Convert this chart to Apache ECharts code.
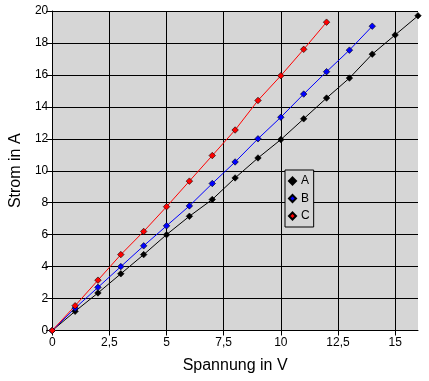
<!DOCTYPE html>
<html><head><meta charset="utf-8">
<script src="https://cdn.jsdelivr.net/npm/echarts@6/dist/echarts.min.js"></script>
<style>html,body{margin:0;padding:0;background:#fff}#c{width:429px;height:381px}</style>
</head><body><div id="c"></div>
<script>
const seriesNames = ['A', 'B', 'C'];
const colors = ['#000000', '#0000ff', '#ff0000'];
const xA = [0,1,2,3,4,5,6,7,8,9,10,11,12,13,14,15,16];
const yA = [0,1.2,2.35,3.55,4.75,6.0,7.15,8.2,9.55,10.8,11.95,13.25,14.55,15.8,17.3,18.5,19.7];
const xB = [0,1,2,3,4,5,6,7,8,9,10,11,12,13,14];
const yB = [0,1.4,2.7,4.0,5.3,6.55,7.8,9.2,10.55,12.0,13.35,14.8,16.2,17.55,19.05];
const xC = [0,1,2,3,4,5,6,7,8,9,10,11,12];
const yC = [0,1.55,3.15,4.75,6.2,7.75,9.35,10.95,12.55,14.4,15.95,17.6,19.3];
const xTicks = [0,2.5,5,7.5,10,12.5,15];
const xTitle = 'Spannung in V';
const yTitle = 'Strom in A';

const xs = [xA, xB, xC], ys = [yA, yB, yC];
const font = 'Liberation Sans, Arial, sans-serif';
const chart = echarts.init(document.getElementById('c'), null, {renderer: 'canvas'});
chart.setOption({
  animation: false,
  backgroundColor: '#ffffff',
  grid: {left: 50, right: 11, top: 11, bottom: 50.5, show: true, backgroundColor: '#d6d6d6', borderWidth: 0, containLabel: false},
  xAxis: {
    type: 'value', min: 0, max: 16,
    name: xTitle, nameLocation: 'middle', nameGap: 27,
    nameTextStyle: {fontFamily: font, fontSize: 16, color: '#000'},
    axisLine: {show: true, onZero: false, lineStyle: {color: '#000', width: 1}},
    axisTick: {show: true, length: 5, lineStyle: {color: '#000'}, customValues: xTicks},
    axisLabel: {customValues: xTicks, fontFamily: font, fontSize: 12, color: '#000', margin: 6,
      formatter: v => String(v).replace('.', ',')},
    splitLine: {show: true, lineStyle: {color: '#000', width: 1}}
  },
  yAxis: {
    type: 'value', min: 0, max: 20, interval: 2,
    name: yTitle, nameLocation: 'middle', nameGap: 22,
    nameTextStyle: {fontFamily: font, fontSize: 16, color: '#000'},
    axisLine: {show: true, onZero: false, lineStyle: {color: '#000', width: 1}},
    axisTick: {show: true, length: 6, lineStyle: {color: '#000'}},
    axisLabel: {fontFamily: font, fontSize: 12, color: '#000', margin: 4},
    splitLine: {show: true, lineStyle: {color: '#000', width: 1}}
  },
  legend: {
    orient: 'vertical', left: 285, top: 170,
    data: seriesNames.map(n => ({name: n, icon: 'diamond'})),
    itemWidth: 7, itemHeight: 7, itemGap: 5.5,
    padding: [5, 4, 5, 3],
    backgroundColor: '#d6d6d6', borderColor: '#000', borderWidth: 1, borderRadius: 0,
    textStyle: {fontFamily: font, fontSize: 12, color: '#000', padding: [0, 0, 0, 0]}
  },
  series: seriesNames.map((n, i) => ({
    name: n, type: 'line',
    data: xs[i].map((x, j) => [x, ys[i][j]]),
    symbol: 'diamond', symbolSize: 6.5, showSymbol: true,
    lineStyle: {color: colors[i], width: 1},
    itemStyle: {color: colors[i], borderColor: '#000', borderWidth: 0.6},
    emphasis: {disabled: true}
  }))
});
</script></body></html>
